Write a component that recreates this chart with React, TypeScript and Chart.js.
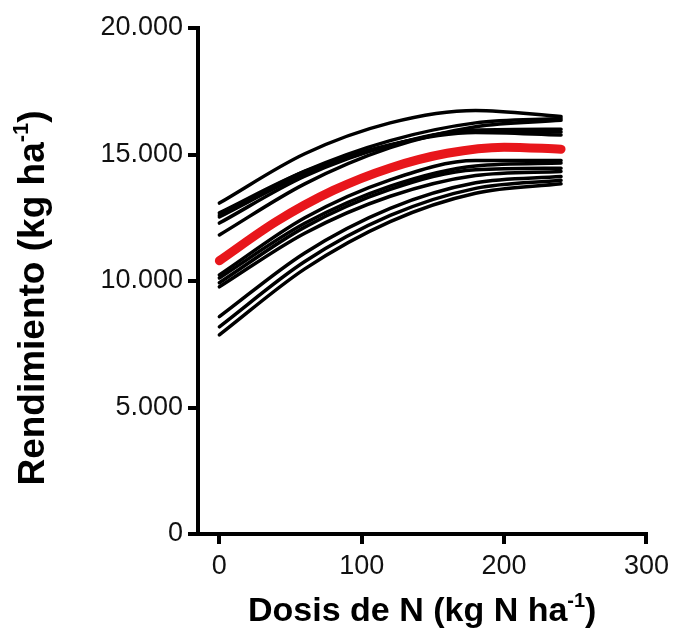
import { useEffect, useRef } from 'react';
import { Chart, registerables } from 'chart.js';

Chart.register(...registerables);

// ---- Data (kg ha-1) ----
const doses = [0, 60, 120, 180, 240];
const siteA1 = [13080, 15030, 16250, 16740, 16500];
const siteA2 = [12690, 14330, 15390, 15870, 15770];
const siteA3 = [12600, 14340, 15550, 16250, 16420];
const siteA4 = [12530, 14220, 15360, 15960, 16000];
const siteA5 = [12290, 14140, 15360, 15950, 15890];
const siteA6 = [11820, 13840, 15270, 16100, 16350];
const siteB1 = [10240, 12500, 14000, 14760, 14760];
const siteB2 = [10120, 12280, 13750, 14550, 14660];
const siteB3 = [9930, 12130, 13620, 14400, 14460];
const siteB4 = [9770, 11890, 13350, 14170, 14330];
const siteB5 = [8590, 11110, 12870, 13880, 14130];
const siteB6 = [8190, 10770, 12590, 13660, 13980];
const siteB7 = [7870, 10480, 12350, 13470, 13840];
const siteCurves = [siteA1, siteA2, siteA3, siteA4, siteA5, siteA6, siteB1, siteB2, siteB3, siteB4, siteB5, siteB6, siteB7];

const meanDoses = [0, 40, 80, 120, 160, 200, 240];
const meanYield = [10800, 12350, 13580, 14470, 15050, 15290, 15210];

const xTicks = [0, 100, 200, 300];
const yTicks = [0, 5000, 10000, 15000, 20000];
const yTickLabels = ['0', '5.000', '10.000', '15.000', '20.000'];
const xTitleParts = ['Dosis de N (kg N ha', '-1', ')'];
const yTitleParts = ['Rendimiento (kg ha', '-1', ')'];

const FONT = '"Liberation Sans", Arial, Helvetica, sans-serif';

function drawSupText(ctx: CanvasRenderingContext2D, parts: string[], cx: number, baseline: number, size: number) {
  const main = `bold ${size}px ${FONT}`;
  const sup = `bold ${Math.round(size * 0.6)}px ${FONT}`;
  ctx.font = main;
  const w0 = ctx.measureText(parts[0]).width;
  const w2 = ctx.measureText(parts[2]).width;
  ctx.font = sup;
  const w1 = ctx.measureText(parts[1]).width;
  let x = cx - (w0 + w1 + w2) / 2;
  ctx.textAlign = 'left';
  ctx.textBaseline = 'alphabetic';
  ctx.font = main;
  ctx.fillText(parts[0], x, baseline);
  x += w0;
  ctx.font = sup;
  ctx.fillText(parts[1], x, baseline - size * 0.42);
  x += w1;
  ctx.font = main;
  ctx.fillText(parts[2], x, baseline);
}

export default function App() {
  const ref = useRef<HTMLCanvasElement>(null);

  useEffect(() => {
    document.body.style.margin = '0';
    const canvas = ref.current;
    if (!canvas) return;

    const titlePlugin = {
      id: 'axisTitles',
      afterDraw(chart: any) {
        const ctx: CanvasRenderingContext2D = chart.ctx;
        const area = chart.chartArea;
        ctx.save();
        ctx.fillStyle = '#000';
        drawSupText(ctx, xTitleParts, (area.left + area.right) / 2, 621, 34);
        ctx.translate(44, 298);
        ctx.rotate(-Math.PI / 2);
        drawSupText(ctx, yTitleParts, 0, 0, 37);
        ctx.restore();
      },
    };

    const datasets: any[] = [
      {
        label: 'Media',
        data: meanDoses.map((d, i) => ({ x: d, y: meanYield[i] })),
        borderColor: '#e8161b',
        borderWidth: 9,
        borderCapStyle: 'round',
        borderJoinStyle: 'round',
        cubicInterpolationMode: 'monotone',
        pointRadius: 0,
        fill: false,
      },
      ...siteCurves.map((vals, k) => ({
        label: `Sitio ${k + 1}`,
        data: doses.map((d, i) => ({ x: d, y: vals[i] })),
        borderColor: '#000',
        borderWidth: 3.5,
        borderCapStyle: 'round',
        cubicInterpolationMode: 'monotone',
        pointRadius: 0,
        fill: false,
      })),
    ];

    const axisGrid = {
      display: true,
      drawOnChartArea: false,
      drawTicks: true,
      tickLength: 10,
      tickWidth: 4,
      tickColor: '#000',
      color: '#000',
      lineWidth: 4,
    };

    const chart = new Chart(canvas, {
      type: 'line',
      data: { datasets },
      options: {
        responsive: false,
        animation: false,
        layout: { padding: { left: 0, top: 28, right: 27, bottom: 0 } },
        plugins: {
          legend: { display: false },
          tooltip: { enabled: false },
          title: { display: false },
        },
        elements: { point: { radius: 0 } },
        scales: {
          x: {
            type: 'linear',
            min: -15,
            max: 300,
            afterBuildTicks: (s: any) => {
              s.ticks = xTicks.map((v) => ({ value: v }));
            },
            afterFit: (s: any) => {
              s.height = 96;
            },
            border: { display: true, color: '#000', width: 4 },
            grid: axisGrid,
            ticks: {
              font: { family: FONT, size: 27 },
              color: '#111',
              padding: 6,
              maxRotation: 0,
              autoSkip: false,
              callback: (v: any) => String(v),
            },
          },
          y: {
            type: 'linear',
            min: 0,
            max: 20000,
            afterBuildTicks: (s: any) => {
              s.ticks = yTicks.map((v) => ({ value: v }));
            },
            afterFit: (s: any) => {
              s.width = 198;
            },
            border: { display: true, color: '#000', width: 4 },
            grid: axisGrid,
            ticks: {
              font: { family: FONT, size: 27 },
              color: '#111',
              padding: 5,
              autoSkip: false,
              callback: (v: any) => {
                const i = yTicks.indexOf(Number(v));
                return i >= 0 ? yTickLabels[i] : '';
              },
            },
          },
        },
      } as any,
      plugins: [titlePlugin],
    });

    return () => chart.destroy();
  }, []);

  return (
    <div style={{ width: 675, height: 630, background: '#fff' }}>
      <canvas ref={ref} width={675} height={630} style={{ display: 'block' }} />
    </div>
  );
}
